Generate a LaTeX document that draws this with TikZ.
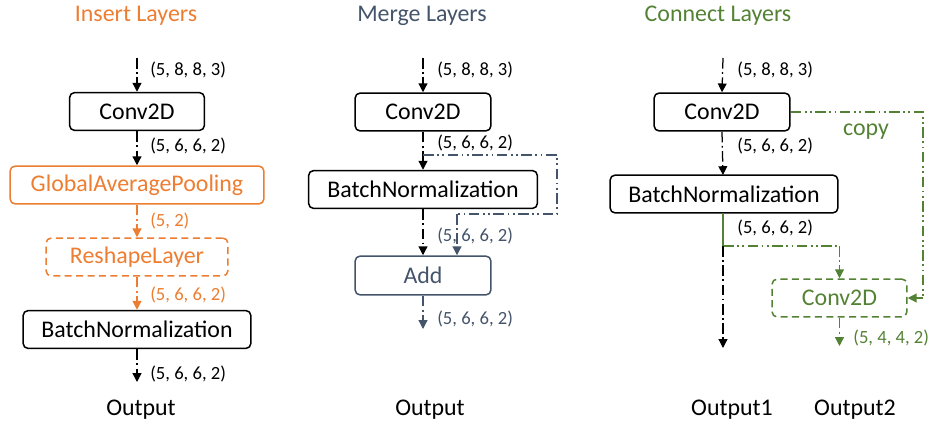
\documentclass[tikz,border=0pt]{standalone}
\usepackage{fontspec}
\setmainfont{Carlito}
\usetikzlibrary{arrows.meta}
\definecolor{insertc}{HTML}{ED7D31}
\definecolor{mergec}{HTML}{44546A}
\definecolor{connectc}{HTML}{548235}
\tikzset{
  layer/.style={draw, line width=0.3mm, rounded corners=3pt, minimum height=0.76cm, inner sep=0pt, font=\fontsize{13.6}{16}\selectfont},
  newlayer/.style={layer, dash pattern=on 4pt off 2.5pt},
  flow/.style={line width=0.25mm, dash pattern=on 6pt off 2pt on 1pt off 2pt, -{Triangle[width=5pt,length=5pt]}},
  link/.style={line width=0.25mm, dash pattern=on 6pt off 2pt on 1pt off 2pt on 1pt off 2pt},
  dims/.style={font=\fontsize{10.6}{13}\selectfont, anchor=west, inner sep=0pt},
  coltitle/.style={font=\fontsize{13.6}{16}\selectfont, inner sep=0pt},
}
\begin{document}
\begin{tikzpicture}[x=0.02cm,y=-0.02cm]
\useasboundingbox (0,0) rectangle (930,426);

\node[coltitle, text=insertc] (titlea) at (136,16) {Insert Layers};
\node[coltitle, text=mergec] (titleb) at (422,16) {Merge Layers};
\node[coltitle, text=connectc] (titlec) at (718,16) {Connect Layers};

\coordinate (ina) at (137,58);
\node[layer, minimum width=2.7cm] (conva) at (137,111.5) {Conv2D};
\node[layer, draw=insertc, text=insertc, minimum width=5.08cm] (gapa) at (137,185) {GlobalAveragePooling};
\node[newlayer, draw=insertc, text=insertc, minimum width=3.64cm] (resha) at (137,257) {ReshapeLayer};
\node[layer, minimum width=4.56cm] (bna) at (137,329.5) {BatchNormalization};
\coordinate (outa) at (137,382);
\draw[flow] (ina) -- (conva.north);
\draw[flow] (conva.south) -- (gapa.north);
\draw[flow, insertc] (gapa.south) -- (resha.north);
\draw[flow, insertc] (resha.south) -- (bna.north);
\draw[flow] (bna.south) -- (outa);
\node[dims] (da1) at (150,70) {(5, 8, 8, 3)};
\node[dims] (da2) at (150,146) {(5, 6, 6, 2)};
\node[dims, text=insertc] (da3) at (150,221) {(5, 2)};
\node[dims, text=insertc] (da4) at (150,295) {(5, 6, 6, 2)};
\node[dims] (da5) at (150,374) {(5, 6, 6, 2)};
\node[coltitle] (outla) at (141,410) {Output};

\coordinate (inb) at (423,58);
\node[layer, minimum width=2.72cm] (convb) at (423,112) {Conv2D};
\node[layer, minimum width=4.58cm] (bnb) at (423,189.5) {BatchNormalization};
\node[layer, draw=mergec, text=mergec, minimum width=2.72cm, minimum height=0.78cm] (addb) at (423,275.5) {Add};
\coordinate (outb) at (423,329);
\coordinate (splitb) at (423,155);
\coordinate (turnb1) at (557,155);
\coordinate (turnb2) at (557,214);
\coordinate (turnb3) at (457,214);
\node[dims] (db1) at (437,70) {(5, 8, 8, 3)};
\node[dims] (db2) at (437,143) {(5, 6, 6, 2)};
\node[dims, text=mergec] (db3) at (437,236) {(5, 6, 6, 2)};
\node[dims, text=mergec] (db4) at (437,319) {(5, 6, 6, 2)};
\draw[flow] (inb) -- (convb.north);
\draw[flow] (convb.south) -- (bnb.north);
\draw[link, mergec] (splitb) -- (turnb1) -- (turnb2) -- (turnb3);
\draw[flow, mergec] (turnb3) -- (turnb3 |- addb.north);
\draw[flow] (bnb.south) -- (addb.north);
\draw[flow, mergec] (addb.south) -- (outb);
\node[coltitle] (outlb) at (430,410) {Output};

\coordinate (inc) at (723,58);
\node[layer, minimum width=2.72cm] (convc) at (722,112) {Conv2D};
\node[layer, minimum width=4.56cm] (bnc) at (724,194) {BatchNormalization};
\node[newlayer, draw=connectc, text=connectc, minimum width=2.7cm] (convd) at (839.5,298) {Conv2D};
\coordinate (splitc) at (723,246);
\coordinate (outc) at (723,348);
\coordinate (outd) at (839.5,346);
\coordinate (copyc1) at (923,112);
\coordinate (copyc2) at (923,298);
\draw[flow] (inc) -- (convc.north);
\draw[flow] (convc.south) -- (723,175);
\draw[line width=0.25mm, connectc] (723,213) -- (splitc);
\draw[link, connectc] (splitc) -- (splitc -| convd.north);
\draw[flow, connectc] (splitc -| convd.north) -- (convd.north);
\draw[flow] (splitc) -- (outc);
\draw[link, connectc] (convc.east) -- (copyc1) -- (copyc2);
\draw[flow, connectc] (copyc2) -- (convd.east);
\draw[flow, connectc] (convd.south) -- (outd);
\node[dims] (dc1) at (737,70) {(5, 8, 8, 3)};
\node[dims] (dc2) at (737,146) {(5, 6, 6, 2)};
\node[dims] (dc3) at (737,228) {(5, 6, 6, 2)};
\node[dims, text=connectc] (dc4) at (853,338) {(5, 4, 4, 2)};
\node[coltitle, text=connectc] (copyl) at (866,132) {copy};
\node[coltitle] (outlc) at (732,410) {Output1};
\node[coltitle] (outld) at (855,410) {Output2};
\end{tikzpicture}
\end{document}
